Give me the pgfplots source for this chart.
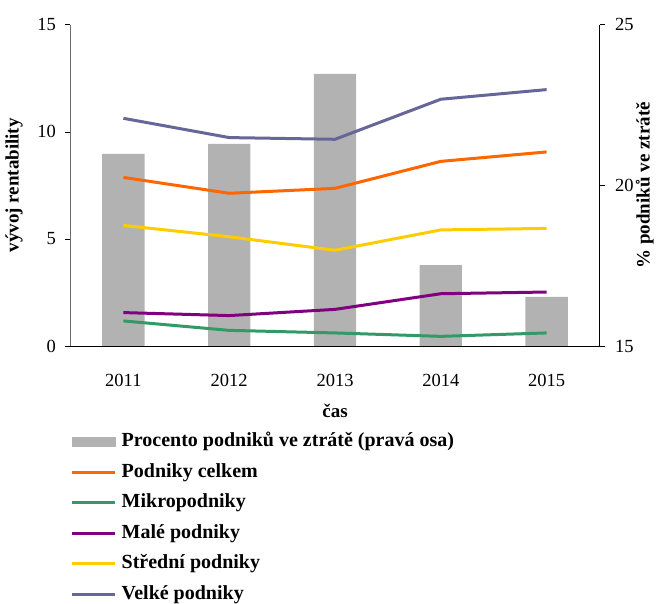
\documentclass[border=0pt]{standalone}
\usepackage{pgfplots}
\pgfplotsset{compat=1.18}
\usepackage{fontspec}
\setmainfont{Liberation Serif}
\definecolor{cOrange}{HTML}{FF6600}
\definecolor{cGreen}{HTML}{339966}
\definecolor{cPurple}{HTML}{800080}
\definecolor{cYellow}{HTML}{FFCC00}
\definecolor{cBlue}{HTML}{666699}
\definecolor{cGray}{HTML}{B2B2B2}
\begin{document}
\begin{tikzpicture}
\pgfplotsset{
  common/.style={
    scale only axis, width=529bp, height=321.3bp,
    xmin=-0.5, xmax=4.5,
    /pgf/number format/assume math mode=true,
    ticklabel style={font=\fontsize{18.5bp}{20bp}\selectfont},
    label style={font=\bfseries\fontsize{19bp}{22bp}\selectfont},
    tick align=outside, major tick length=5bp,
    tick style={black, line width=0.6bp},
    axis line style={-, line width=0.8bp},
  }
}
\begin{axis}[common,
  axis y line*=right, axis x line=none,
  ymin=15, ymax=25, ytick={15,20,25},
  yticklabel style={xshift=7bp},
  ylabel={\% podniků ve ztrátě},
  ylabel style={yshift=4.5bp},
]
\addplot[ybar, bar width=0.4, fill=cGray, draw=none] coordinates {(0,20.98) (1,21.29) (2,23.47) (3,17.52) (4,16.53)};
\end{axis}
\begin{axis}[common,
  axis y line*=left, axis x line*=bottom,
  y axis line style={gray!85!black},
  ymin=0, ymax=15, ytick={0,5,10,15},
  yticklabel style={xshift=-6bp},
  xtick={0,1,2,3,4}, xticklabels={2011,2012,2013,2014,2015},
  xticklabel style={yshift=-20bp},
  major x tick style={draw=none},
  xlabel={čas}, ylabel={vývoj rentability},
  xlabel style={yshift=-10bp},
  ylabel style={yshift=8bp},
  legend style={draw=none, fill=none, at={(axis description cs:0,-0.266)}, anchor=north west,
    font=\bfseries\fontsize{20bp}{24bp}\selectfont, inner sep=0pt, row sep=10.5bp,
    nodes={inner sep=0pt, text height=15bp, text depth=5bp},
    /tikz/every odd column/.append style={column sep=5bp}},
  legend cell align=left,
  legend image code/.code={\draw[#1] (0bp,0bp) -- (43bp,0bp);},
]
\addlegendimage{legend image code/.code={\fill[cGray] (0bp,-4.5bp) rectangle (43bp,4.5bp);}}
\addlegendentry{Procento podniků ve ztrátě (pravá osa)}
\addplot[cOrange, line width=3bp, mark=none] coordinates {(0,7.87) (1,7.13) (2,7.36) (3,8.62) (4,9.06)};
\addlegendentry{Podniky celkem}
\addplot[cGreen, line width=3bp, mark=none] coordinates {(0,1.17) (1,0.73) (2,0.61) (3,0.45) (4,0.61)};
\addlegendentry{Mikropodniky}
\addplot[cPurple, line width=3bp, mark=none] coordinates {(0,1.56) (1,1.42) (2,1.71) (3,2.44) (4,2.52)};
\addlegendentry{Malé podniky}
\addplot[cYellow, line width=3bp, mark=none] coordinates {(0,5.63) (1,5.10) (2,4.47) (3,5.42) (4,5.49)};
\addlegendentry{Střední podniky}
\addplot[cBlue, line width=3bp, mark=none] coordinates {(0,10.63) (1,9.73) (2,9.65) (3,11.52) (4,11.97)};
\addlegendentry{Velké podniky}
\end{axis}
\pgfresetboundingbox
\path[use as bounding box] (-70.5bp,-258bp) rectangle (585.5bp,346bp);
\end{tikzpicture}
\end{document}
